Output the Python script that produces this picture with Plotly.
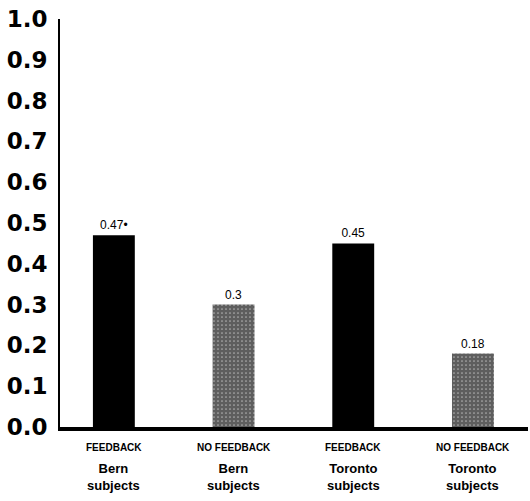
import plotly.graph_objects as go

categories = ["Bern FEEDBACK", "Bern NO FEEDBACK", "Toronto FEEDBACK", "Toronto NO FEEDBACK"]
conditions = ["FEEDBACK", "NO FEEDBACK", "FEEDBACK", "NO FEEDBACK"]
groups = ["Bern<br>subjects", "Bern<br>subjects", "Toronto<br>subjects", "Toronto<br>subjects"]
values = [0.47, 0.30, 0.45, 0.18]
value_labels = ["0.47\u2022", "0.3", "0.45", "0.18"]
colors = ["#000000", "#5e5e5e", "#000000", "#5e5e5e"]
y_ticks = [0.0, 0.1, 0.2, 0.3, 0.4, 0.5, 0.6, 0.7, 0.8, 0.9, 1.0]

fig = go.Figure()
fig.add_trace(go.Bar(
    x=categories, y=values,
    marker=dict(color=colors, line=dict(width=0),
                pattern=dict(shape=["", ".", "", "."], fgcolor="#9a9a9a", size=4, solidity=0.15)),
    text=value_labels, textposition="outside", cliponaxis=False,
    textfont=dict(family="Arial", size=12, color="black"),
    width=0.35,
))

for c, cond, grp in zip(categories, conditions, groups):
    fig.add_annotation(x=c, y=-0.051, xref="x", yref="paper", text="<b>%s</b>" % cond,
                       showarrow=False, font=dict(family="Arial", size=10, color="black"),
                       yanchor="middle")
    fig.add_annotation(x=c, y=-0.078, xref="x", yref="paper", text="<b>%s</b>" % grp,
                       showarrow=False, font=dict(family="Arial", size=13, color="black"),
                       yanchor="top")

fig.update_layout(
    width=530, height=501,
    margin=dict(l=60, r=2, t=19, b=74, autoexpand=False),
    plot_bgcolor="white", paper_bgcolor="white",
    showlegend=False,
    xaxis=dict(showticklabels=False, showline=True, linecolor="black", linewidth=4,
               ticks="", showgrid=False, range=[-0.45, 3.46], automargin=False),
    yaxis=dict(range=[0, 1.0], tickvals=y_ticks,
               ticktext=["%.1f" % v for v in y_ticks],
               tickfont=dict(family="DejaVu Sans", size=23, color="black", weight="bold"),
               showline=True, linecolor="black", linewidth=2, ticks="", showgrid=False,
               zeroline=False, ticklabelstandoff=6, automargin=False),
)

fig.write_html("out.html", config={"displayModeBar": False},
               post_script="document.body.style.margin='0';document.body.style.overflow='hidden';")
